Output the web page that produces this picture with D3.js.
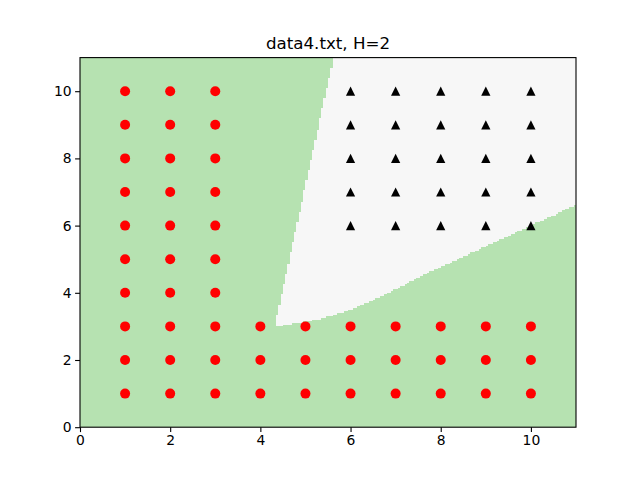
<!DOCTYPE html>
<html><head><meta charset="utf-8">
<script src="https://cdn.jsdelivr.net/npm/d3@7"></script>
<style>body{margin:0;background:#fff}svg{display:block}</style>
</head><body>
<svg id="c" width="640" height="480"></svg>
<script>
const title = "data4.txt, H=2";
const xTicks = [0, 2, 4, 6, 8, 10];
const yTicks = [0, 2, 4, 6, 8, 10];
// class A (red circles)
const redX = [1,1,1,1,1,1,1,1,1,1, 2,2,2,2,2,2,2,2,2,2, 3,3,3,3,3,3,3,3,3,3,
              4,4,4, 5,5,5, 6,6,6, 7,7,7, 8,8,8, 9,9,9, 10,10,10];
const redY = [1,2,3,4,5,6,7,8,9,10, 1,2,3,4,5,6,7,8,9,10, 1,2,3,4,5,6,7,8,9,10,
              1,2,3, 1,2,3, 1,2,3, 1,2,3, 1,2,3, 1,2,3, 1,2,3];
// class B (black triangles)
const blackX = [6,6,6,6,6, 7,7,7,7,7, 8,8,8,8,8, 9,9,9,9,9, 10,10,10,10,10];
const blackY = [6,7,8,9,10, 6,7,8,9,10, 6,7,8,9,10, 6,7,8,9,10, 6,7,8,9,10];
// decision region of class B
const leftEdge = [[4.32,2.99],[5.62,11.0]];
const bottomEdge = [[4.32,2.99],[4.66,3.06],[5.32,3.22],[5.99,3.49],[6.88,4.01],[7.54,4.48],[8.43,5.03],[9.31,5.57],[11.0,6.62]];
const xDomain = [0, 11], yDomain = [0, 11];
const meshStep = 0.05;

const svg = d3.select("#c");
const L = 80, R = 576, T = 57.6, B = 427.2;
const x = d3.scaleLinear().domain(xDomain).range([L, R]);
const y = d3.scaleLinear().domain(yDomain).range([B, T]);

svg.append("rect").attr("x", L).attr("y", T).attr("width", R - L).attr("height", B - T).attr("fill", "#b6e2b1");

const poly = [...leftEdge, [11.5, 11.5], [11.5, 6.62], ...bottomEdge.slice().reverse()];
const n = Math.round((xDomain[1] - xDomain[0]) / meshStep);
let pd = "";
for (let j = 0; j < n; j++) {
  const y0 = yDomain[0] + j * meshStep, yc = y0 + meshStep / 2;
  let start = null;
  for (let i = 0; i <= n; i++) {
    const x0 = xDomain[0] + i * meshStep, xc = x0 + meshStep / 2;
    const inside = i < n && d3.polygonContains(poly, [xc, yc]);
    if (inside && start === null) start = x0;
    if (!inside && start !== null) {
      const px0 = x(start), px1 = x(x0), py0 = y(y0 + meshStep), py1 = y(y0);
      pd += `M${px0},${py0}H${px1}V${py1}H${px0}Z`;
      start = null;
    }
  }
}
svg.append("path").attr("d", pd).attr("fill", "#f7f7f7").attr("shape-rendering", "crispEdges");

const g = svg.append("g");
g.selectAll("circle").data(redX.map((v, i) => [v, redY[i]])).join("circle")
  .attr("cx", d => x(d[0])).attr("cy", d => y(d[1])).attr("r", 5).attr("fill", "#ff0000");
const s = 4.6;
g.selectAll("path.tri").data(blackX.map((v, i) => [v, blackY[i]])).join("path").attr("class", "tri")
  .attr("d", d => { const cx = x(d[0]), cy = y(d[1]); return `M${cx},${cy - s}L${cx - s},${cy + s}L${cx + s},${cy + s}Z`; })
  .attr("fill", "#000");

const xa = svg.append("g").attr("transform", `translate(0,${B})`)
  .call(d3.axisBottom(x).tickValues(xTicks).tickSize(4.9).tickPadding(3.5).tickFormat(d3.format("d")));
const ya = svg.append("g").attr("transform", `translate(${L},0)`)
  .call(d3.axisLeft(y).tickValues(yTicks).tickSize(4.9).tickPadding(3.5).tickFormat(d3.format("d")));
[xa, ya].forEach(a => {
  a.select(".domain").remove();
  a.selectAll("text").attr("font-family", "DejaVu Sans").attr("font-size", "13.9px").attr("fill", "#000");
  a.selectAll("line").attr("stroke", "#000").attr("stroke-width", 1.1);
});
svg.append("rect").attr("x", L).attr("y", T).attr("width", R - L).attr("height", B - T)
  .attr("fill", "none").attr("stroke", "#000").attr("stroke-width", 1.1);

svg.append("text").attr("x", (L + R) / 2).attr("y", 49).attr("text-anchor", "middle")
  .attr("font-family", "DejaVu Sans").attr("font-size", "16.7px").attr("fill", "#000").text(title);
</script>
</body></html>
